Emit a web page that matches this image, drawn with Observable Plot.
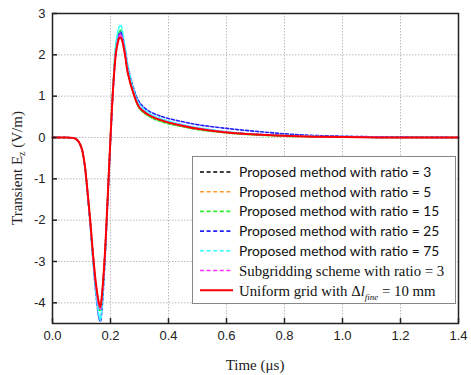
<!DOCTYPE html>
<html><head><meta charset="utf-8">
<script src="https://cdn.jsdelivr.net/npm/d3@7"></script>
<script src="https://cdn.jsdelivr.net/npm/@observablehq/plot@0.6"></script>
<style>
body{margin:0;background:#fff;}
#chart{position:relative;width:471px;height:375px;}
</style></head><body><div id="chart"></div>
<script>
const time = [0, 0.04, 0.06, 0.08, 0.09, 0.1, 0.11, 0.12, 0.13, 0.14, 0.15, 0.16, 0.165, 0.17, 0.18, 0.19, 0.2, 0.21, 0.22, 0.23, 0.235, 0.24, 0.25, 0.26, 0.28, 0.3, 0.33, 0.36, 0.4, 0.45, 0.5, 0.6, 0.7, 0.8, 0.9, 1.0, 1.2, 1.4];

const ratio3   = [0,0,-0.005,-0.03,-0.1,-0.25,-0.6,-1.26,-2.02,-2.88,-3.6,-4.08,-4.15,-3.9,-2.92,-1.5,0.0,1.32,2.15,2.46,2.5,2.42,2.05,1.58,1.07,0.74,0.56,0.46,0.37,0.29,0.22,0.13,0.075,0.045,0.025,0.012,0.0,0.0];
const ratio5   = [0,0,-0.005,-0.03,-0.1,-0.25,-0.6,-1.26,-2.02,-2.87,-3.58,-4.07,-4.15,-3.9,-2.92,-1.5,0.0,1.31,2.14,2.44,2.48,2.4,2.04,1.58,1.07,0.74,0.56,0.46,0.37,0.29,0.22,0.13,0.075,0.045,0.025,0.012,0.0,0.0];
const ratio15  = [0,0,-0.005,-0.03,-0.1,-0.25,-0.6,-1.27,-2.05,-2.9,-3.65,-4.12,-4.2,-3.95,-2.95,-1.5,0.05,1.4,2.3,2.56,2.6,2.5,2.1,1.6,1.05,0.7,0.52,0.42,0.33,0.26,0.19,0.11,0.06,0.03,0.02,0.01,0.0,0.0];
const ratio25  = [0,0,-0.005,-0.03,-0.1,-0.26,-0.62,-1.3,-2.1,-3.0,-3.8,-4.35,-4.45,-4.2,-3.1,-1.6,-0.1,1.25,2.15,2.5,2.55,2.48,2.15,1.72,1.18,0.85,0.65,0.55,0.46,0.38,0.31,0.22,0.15,0.09,0.05,0.03,0.01,0.0];
const ratio75  = [0,0,-0.005,-0.03,-0.1,-0.26,-0.62,-1.3,-2.1,-3.0,-3.75,-4.3,-4.42,-4.15,-3.05,-1.55,0.0,1.4,2.35,2.68,2.72,2.62,2.2,1.72,1.15,0.8,0.6,0.49,0.4,0.31,0.24,0.14,0.08,0.05,0.03,0.01,0.0,0.0];
const subgrid3 = [0,0,-0.005,-0.03,-0.1,-0.25,-0.6,-1.26,-2.02,-2.88,-3.6,-4.08,-4.15,-3.9,-2.92,-1.5,0.0,1.32,2.15,2.46,2.5,2.42,2.05,1.58,1.07,0.74,0.56,0.46,0.37,0.29,0.22,0.13,0.075,0.045,0.025,0.012,0.0,0.0];
const uniform  = [0,0,-0.005,-0.03,-0.1,-0.25,-0.6,-1.25,-2.0,-2.85,-3.55,-4.0,-4.1,-3.85,-2.9,-1.5,0.0,1.3,2.1,2.4,2.42,2.35,2.0,1.55,1.05,0.72,0.55,0.45,0.36,0.28,0.21,0.12,0.07,0.04,0.02,0.01,0.0,0.0];

const seriesNames = [
  "Proposed method with ratio = 3",
  "Proposed method with ratio = 5",
  "Proposed method with ratio = 15",
  "Proposed method with ratio = 25",
  "Proposed method with ratio = 75",
  "Subgridding scheme with ratio = 3",
  "Uniform grid with \u0394l_fine = 10 mm"
];
const seriesColors = ["#000000", "#ff9933", "#33ee33", "#2222ff", "#33ffff", "#ff33ff", "#ff0000"];
const seriesDashed = [true, true, true, true, true, true, false];
const xTicks = [0, 0.2, 0.4, 0.6, 0.8, 1.0, 1.2, 1.4];
const yTicks = [-4, -3, -2, -1, 0, 1, 2, 3];
const xTitle = "Time (\u03bcs)";
const yTitle = ["Transient E", "z", " (V/m)"];

const seriesValues = [ratio3, ratio5, ratio15, ratio25, ratio75, subgrid3, uniform];
const seriesData = seriesValues.map((vals, k) => time.map((t, i) => ({t, v: vals[i], k})));

const W = 471, H = 375, ML = 52, MR = 13, MT = 13, MB = 52;
const innerW = W - ML - MR, innerH = H - MT - MB;

const lineMarks = seriesData.map((d, k) => Plot.line(d, {
  x: "t", y: "v", stroke: seriesColors[k],
  strokeWidth: seriesDashed[k] ? 1.6 : 2,
  strokeDasharray: seriesDashed[k] ? "3,2" : null,
  curve: "catmull-rom"
}));

const plot = Plot.plot({
  width: W, height: H,
  marginLeft: ML, marginRight: MR, marginTop: MT, marginBottom: MB,
  style: {fontFamily: "'Liberation Sans', Arial, sans-serif", fontSize: "13px", color: "#222", background: "#fff"},
  x: {domain: [0, 1.4]},
  y: {domain: [-4.5, 3]},
  marks: [
    Plot.gridX({ticks: xTicks, stroke: "#bbb", strokeOpacity: 1, strokeDasharray: "1.5,1.5"}),
    Plot.gridY({ticks: yTicks, stroke: "#bbb", strokeOpacity: 1, strokeDasharray: "1.5,1.5"}),
    ...lineMarks,
    Plot.tickX(xTicks, {x: d => d, stroke: "#222", strokeWidth: 1.5, insetTop: innerH - 5}),
    Plot.tickY(yTicks, {y: d => d, stroke: "#222", strokeWidth: 1.5, insetRight: innerW - 5}),
    Plot.axisX({ticks: xTicks, tickSize: 0, tickPadding: 7, tickFormat: d => d.toFixed(1), label: null}),
    Plot.axisY({ticks: yTicks, tickSize: 0, tickPadding: 7, tickFormat: d => String(d), label: null}),
    Plot.frame({stroke: "#222", strokeWidth: 1.5})
  ]
});

document.getElementById("chart").appendChild(plot);
const svg = d3.select(plot);

// axis titles
svg.append("text")
  .attr("x", ML + innerW / 2).attr("y", 370)
  .attr("text-anchor", "middle")
  .style("font-family", "'Liberation Serif', 'Times New Roman', serif")
  .style("font-size", "15px").attr("fill", "#222")
  .text(xTitle);

const yt = svg.append("text")
  .attr("transform", `translate(22,${MT + innerH / 2}) rotate(-90)`)
  .attr("text-anchor", "middle")
  .style("font-family", "'Liberation Serif', 'Times New Roman', serif")
  .style("font-size", "15px").attr("fill", "#222");
yt.append("tspan").text(yTitle[0]);
yt.append("tspan").attr("font-size", "10px").attr("dy", 3).text(yTitle[1]);
yt.append("tspan").attr("dy", -3).text(yTitle[2]);

// legend
const lg = svg.append("g").attr("text-anchor", "start");
lg.append("rect").attr("x", 192.5).attr("y", 156.5).attr("width", 263).attr("height", 147)
  .attr("fill", "#fff").attr("stroke", "#888").attr("stroke-width", 1);
seriesNames.forEach((name, i) => {
  const cy = 172 + i * 19.7;
  lg.append("line").attr("x1", 200).attr("x2", 233).attr("y1", cy).attr("y2", cy)
    .attr("stroke", seriesColors[i]).attr("stroke-width", seriesDashed[i] ? 1.6 : 2)
    .attr("stroke-dasharray", seriesDashed[i] ? "4,2.6" : null);
  const serif = i >= 5;
  const tx = lg.append("text").attr("x", 239).attr("y", cy).attr("dy", "0.36em")
    .attr("text-anchor", "start")
    .attr("fill", "#111")
    .style("font-family", serif ? "'Liberation Serif', 'Times New Roman', serif" : "Lato, 'Open Sans', sans-serif")
    .style("font-size", serif ? "14.8px" : "13.8px");
  if (name.includes("_")) {
    const [pre, rest] = name.split("_");
    const base = pre.slice(0, -1);
    const sub = rest.split(" ")[0];
    const post = rest.slice(sub.length);
    tx.append("tspan").text(base);
    tx.append("tspan").attr("font-style", "italic").text(pre.slice(-1));
    tx.append("tspan").attr("font-style", "italic").attr("font-size", "9px").attr("dy", 4).text(sub);
    tx.append("tspan").attr("dy", -4).text(post);
  } else {
    tx.text(name);
  }
});
</script>
</body></html>
